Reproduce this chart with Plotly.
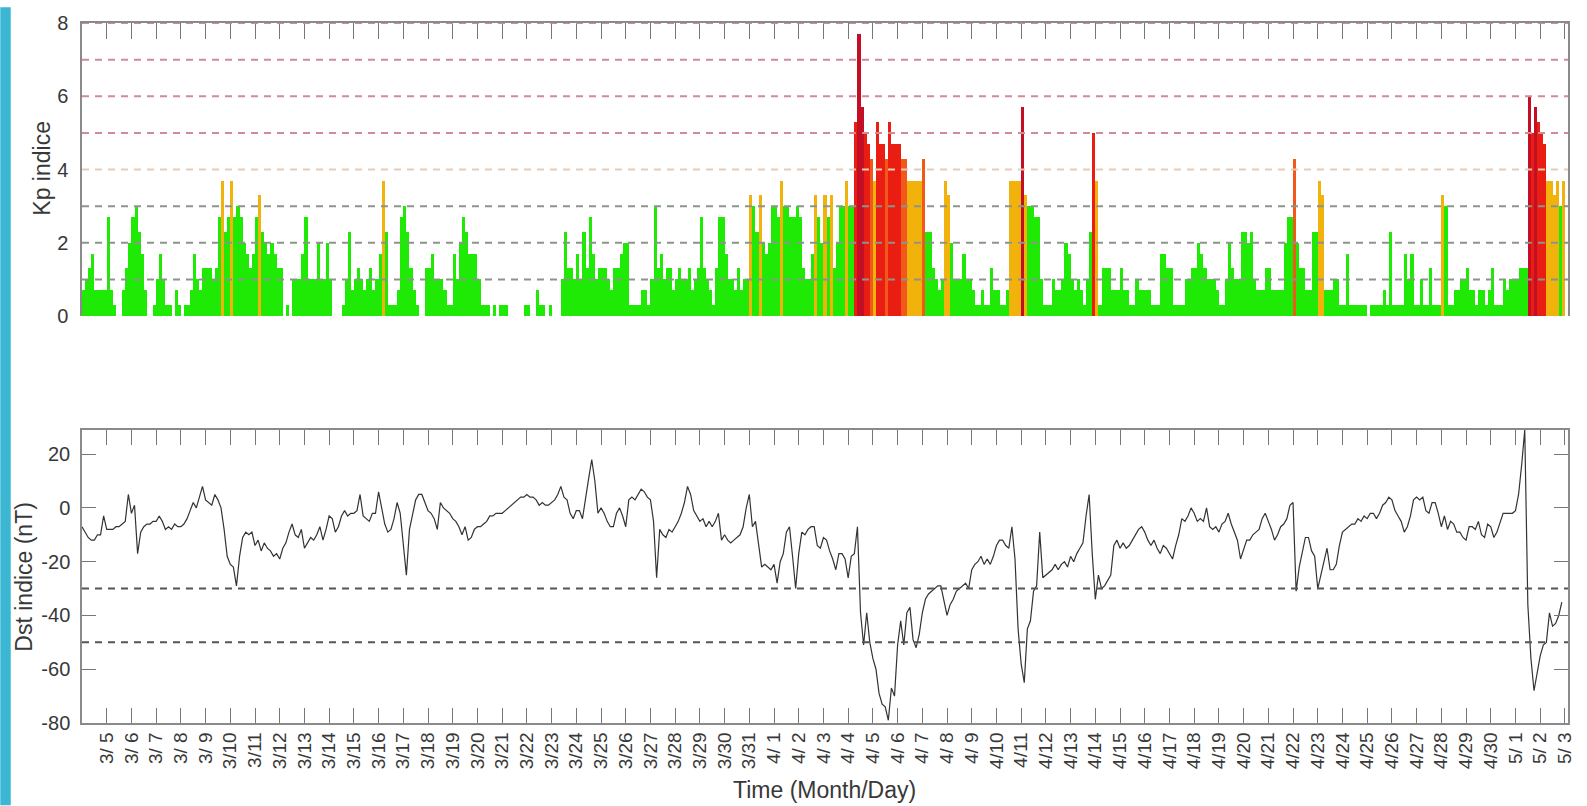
import plotly.graph_objects as go
import pandas as pd

# ---------------- data ----------------
# Kp index, 3-hourly (8 values per day), 2010-03-04 .. 2010-05-02
kp_mar = [
    0.7, 1.0, 1.3, 1.7, 0.7, 0.7, 0.7, 0.7,   # 3/4
    2.7, 0.7, 0.3, 0.0, 0.0, 0.7, 1.3, 2.0,   # 3/5
    2.7, 3.0, 2.3, 1.7, 0.7, 0.0, 0.0, 0.3,   # 3/6
    1.0, 1.7, 1.0, 0.3, 0.3, 0.0, 0.7, 0.3,   # 3/7
    0.0, 0.3, 0.3, 0.7, 1.7, 1.0, 0.7, 1.3,   # 3/8
    1.3, 1.3, 1.0, 1.3, 2.7, 3.7, 2.3, 2.7,   # 3/9
    3.7, 2.7, 3.0, 2.7, 2.0, 1.7, 1.3, 1.7,   # 3/10
    2.7, 3.3, 2.3, 2.0, 1.7, 2.0, 1.7, 1.3,   # 3/11
    1.3, 0.0, 0.3, 0.0, 1.0, 1.0, 1.0, 1.7,   # 3/12
    2.7, 1.0, 1.0, 1.0, 2.0, 1.0, 1.0, 2.0,   # 3/13
    1.0, 0.0, 0.0, 0.0, 0.3, 1.0, 2.3, 0.7,   # 3/14
    1.0, 1.3, 1.0, 0.7, 1.0, 1.3, 0.7, 1.0,   # 3/15
    1.7, 3.7, 2.3, 0.3, 0.3, 0.3, 0.7, 2.7,   # 3/16
    3.0, 2.3, 1.3, 0.7, 0.3, 0.0, 0.0, 1.3,   # 3/17
    1.3, 1.7, 1.0, 1.0, 1.0, 0.7, 0.3, 0.3,   # 3/18
    1.7, 1.0, 2.0, 2.7, 2.3, 1.7, 1.7, 1.7,   # 3/19
    1.0, 0.3, 0.3, 0.3, 0.0, 0.3, 0.0, 0.3,   # 3/20
    0.3, 0.3, 0.0, 0.0, 0.0, 0.0, 0.0, 0.3,   # 3/21
    0.3, 0.0, 0.0, 0.7, 0.3, 0.3, 0.0, 0.3,   # 3/22
    0.0, 0.0, 0.0, 1.0, 2.3, 1.3, 1.3, 1.0,   # 3/23
    1.7, 1.0, 2.3, 1.3, 2.7, 1.7, 1.0, 1.3,   # 3/24
    1.3, 1.3, 1.0, 0.7, 1.3, 1.3, 1.7, 2.0,   # 3/25
    2.0, 0.3, 0.3, 0.3, 0.3, 0.7, 0.7, 0.3,   # 3/26
    1.0, 3.0, 1.3, 1.7, 1.0, 1.3, 1.3, 0.7,   # 3/27
    1.0, 1.3, 1.0, 1.0, 1.3, 0.7, 1.0, 1.3,   # 3/28
    2.7, 1.3, 1.0, 0.7, 0.3, 1.3, 2.7, 2.7,   # 3/29
    1.7, 1.0, 1.0, 0.7, 1.3, 0.7, 1.0, 1.0,   # 3/30
    3.3, 3.0, 2.3, 3.3, 2.0, 1.7, 2.0, 3.0,   # 3/31
]
kp_apr = [
    3.0, 2.7, 3.7, 3.0, 3.0, 2.7, 2.7, 3.0,   # 4/1
    2.7, 1.3, 1.0, 1.0, 1.7, 3.3, 2.7, 2.0,   # 4/2
    3.3, 2.7, 3.3, 1.3, 2.0, 3.0, 3.0, 3.7,   # 4/3
    3.0, 3.0, 5.3, 7.7, 5.7, 5.0, 4.7, 4.3,   # 4/4
    3.7, 5.3, 4.7, 4.7, 4.3, 5.3, 4.7, 4.7,   # 4/5
    4.7, 4.3, 4.3, 3.7, 3.7, 3.7, 3.7, 3.7,   # 4/6
    4.3, 2.3, 2.3, 1.3, 1.0, 0.7, 1.0, 3.7,   # 4/7
    3.3, 2.0, 1.0, 1.0, 1.0, 1.7, 1.0, 1.0,   # 4/8
    0.7, 0.3, 0.3, 0.7, 0.3, 0.3, 1.3, 0.7,   # 4/9
    0.7, 0.3, 0.3, 0.7, 3.7, 3.7, 3.7, 3.7,   # 4/10
    5.7, 3.3, 3.0, 3.0, 2.7, 2.7, 1.0, 0.3,   # 4/11
    0.3, 0.3, 1.0, 0.7, 0.7, 1.0, 2.0, 1.7,   # 4/12
    1.0, 0.7, 1.0, 0.7, 0.3, 1.0, 2.3, 5.0,   # 4/13
    3.7, 0.3, 1.3, 1.3, 1.3, 0.7, 0.7, 0.7,   # 4/14
    1.3, 0.7, 0.7, 0.3, 0.3, 1.0, 0.7, 0.7,   # 4/15
    0.7, 0.7, 0.3, 0.3, 0.3, 1.7, 1.7, 1.3,   # 4/16
    1.3, 0.3, 0.3, 0.3, 0.3, 1.0, 1.0, 1.3,   # 4/17
    1.3, 2.0, 1.7, 1.3, 1.0, 1.0, 1.0, 0.7,   # 4/18
    0.3, 0.3, 1.0, 2.0, 1.3, 1.0, 1.0, 2.3,   # 4/19
    2.3, 2.0, 2.3, 1.0, 0.7, 0.7, 0.7, 1.3,   # 4/20
    1.3, 0.7, 0.7, 0.7, 0.7, 2.0, 2.7, 2.7,   # 4/21
    4.3, 2.0, 1.3, 1.3, 0.7, 0.7, 2.3, 2.3,   # 4/22
    3.7, 3.3, 0.7, 0.7, 0.7, 1.0, 1.0, 0.3,   # 4/23
    0.3, 1.7, 0.3, 0.3, 0.3, 0.3, 0.3, 0.3,   # 4/24
    0.0, 0.3, 0.3, 0.3, 0.3, 0.7, 0.3, 2.3,   # 4/25
    0.3, 0.3, 0.3, 0.3, 1.7, 1.0, 1.7, 0.3,   # 4/26
    0.3, 1.0, 0.3, 0.3, 1.3, 0.3, 0.3, 0.3,   # 4/27
    3.3, 3.0, 0.3, 0.3, 0.7, 0.7, 1.0, 1.0,   # 4/28
    1.3, 0.7, 0.7, 0.3, 0.7, 0.7, 0.3, 0.7,   # 4/29
    1.3, 0.3, 0.3, 0.3, 1.0, 0.7, 1.0, 1.0,   # 4/30
]
kp_may = [
    1.0, 1.3, 1.3, 1.3, 6.0, 5.0, 5.7, 5.3,   # 5/1
    5.0, 4.7, 3.7, 3.7, 3.3, 3.7, 3.0, 3.7,   # 5/2
]

# Dst index (nT), sampled every 3 hours on the same time grid
dst_mar = [
    -7, -9, -11, -12, -12, -10, -10, -3,
    -8, -8, -8, -7, -7, -6, -5, 5,
    -2, 1, -17, -9, -7, -6, -6, -5,
    -5, -3, -5, -8, -7, -8, -6, -7,
    -7, -6, -4, -1, 2, 0, 4, 8,
    3, 2, 1, 5, 3, 0, -8, -18,
    -21, -22, -29, -18, -11, -9, -10, -9,
    -14, -12, -16, -13, -15, -16, -18, -17,
    -19, -15, -13, -9, -6, -10, -11, -8,
    -15, -13, -11, -12, -10, -7, -12, -8,
    -3, -4, -9, -7, -3, -1, -3, -2,
    -2, -1, 5, -3, -4, -5, -2, -2,
    6, 0, -6, -9, -8, -4, 2, -2,
    -14, -25, -8, -2, 3, 5, 5, 2,
    -1, -2, -4, -8, 2, 0, -1, -2,
    -4, -5, -7, -10, -7, -12, -11, -8,
    -7, -7, -6, -5, -3, -3, -2, -2,
    -2, -1, 0, 1, 2, 3, 4, 4,
    5, 4, 4, 3, 1, 2, 1, 1,
    2, 3, 5, 8, 4, 3, -2, -4,
    -1, -1, -4, 4, 11, 18, 10, -2,
    0, -2, -5, -7, -7, -2, 0, -3,
    -7, 3, 4, 3, 5, 7, 6, 4,
    3, -5, -26, -8, -10, -11, -8, -9,
    -7, -5, -2, 2, 8, 5, -1, -3,
    -5, -4, -7, -5, -7, -5, -2, -12,
    -10, -12, -13, -12, -11, -10, -7, 0,
    5, -7, -5, -14, -22, -21, -22, -23,
]
dst_apr = [
    -21, -28, -20, -17, -9, -7, -18, -30,
    -17, -9, -10, -8, -7, -7, -14, -15,
    -11, -12, -16, -19, -23, -17, -17, -19,
    -26, -18, -17, -7, -39, -51, -39, -50,
    -56, -60, -69, -73, -74, -79, -67, -70,
    -51, -42, -51, -39, -37, -49, -52, -47,
    -39, -34, -32, -31, -30, -29, -29, -34,
    -40, -36, -34, -31, -30, -29, -28, -30,
    -23, -21, -20, -18, -21, -19, -21, -18,
    -14, -12, -12, -14, -15, -7, -19, -45,
    -58, -65, -45, -42, -31, -29, -9, -26,
    -25, -24, -23, -21, -23, -21, -20, -22,
    -18, -20, -17, -15, -13, -3, 5, -17,
    -34, -25, -30, -29, -27, -25, -14, -12,
    -15, -13, -15, -14, -12, -10, -8, -7,
    -9, -12, -14, -12, -15, -17, -14, -15,
    -17, -19, -14, -10, -4, -5, -3, 0,
    -2, -5, -4, -5, 0, -7, -8, -7,
    -9, -6, -5, -2, -6, -9, -12, -19,
    -15, -12, -12, -10, -9, -8, -4, -2,
    -5, -8, -12, -10, -7, -6, -4, 1,
    2, -31, -22, -17, -11, -11, -16, -18,
    -30, -25, -20, -15, -23, -23, -21, -14,
    -9, -8, -7, -6, -6, -4, -5, -3,
    -4, -2, -2, -4, -2, 1, 2, 4,
    3, -1, -3, -5, -9, -7, -3, 3,
    4, 3, 4, -1, -2, 2, 2, -2,
    -7, -3, -8, -5, -6, -9, -9, -11,
    -12, -7, -7, -8, -5, -10, -11, -6,
    -7, -11, -9, -5, -2, -2, -2, -2,
]
dst_may = [
    -1, 5, 16, 29, -36, -56, -68, -62,
    -55, -51, -50, -39, -44, -43, -40, -35,
]

tick_labels = [
    "3/ 5", "3/ 6", "3/ 7", "3/ 8", "3/ 9", "3/10", "3/11", "3/12", "3/13", "3/14",
    "3/15", "3/16", "3/17", "3/18", "3/19", "3/20", "3/21", "3/22", "3/23", "3/24",
    "3/25", "3/26", "3/27", "3/28", "3/29", "3/30", "3/31",
    "4/ 1", "4/ 2", "4/ 3", "4/ 4", "4/ 5", "4/ 6", "4/ 7", "4/ 8", "4/ 9", "4/10",
    "4/11", "4/12", "4/13", "4/14", "4/15", "4/16", "4/17", "4/18", "4/19", "4/20",
    "4/21", "4/22", "4/23", "4/24", "4/25", "4/26", "4/27", "4/28", "4/29", "4/30",
    "5/ 1", "5/ 2", "5/ 3",
]
kp_ticks = [0, 2, 4, 6, 8]
kp_tick_text = ["0", "2", "4", "6", "8"]
dst_ticks = [-80, -60, -40, -20, 0, 20]
dst_tick_text = ["-80", "-60", "-40", "-20", "0", "20"]
kp_ref_levels = [1, 2, 3, 4, 5, 6, 7, 8]
dst_ref_levels = [-30, -50]

# ---------------- layout geometry ----------------
W, H = 1587, 806
ML, MR, MT, MB = 82, 14, 16, 83
PW = W - ML - MR
PH = H - MT - MB


def px_x(px):
    return (px - ML) / PW


def px_y(py):
    return (H - MB - py) / PH


FONT = "Liberation Sans, Arial, Helvetica, sans-serif"
TXT = "#383838"

kp = kp_mar + kp_apr + kp_may
dst = dst_mar + dst_apr + dst_may

t0 = pd.Timestamp("2010-03-04 00:00")
t_end = pd.Timestamp("2010-05-03 03:00")
step = pd.Timedelta(hours=3)
kp_t = [t0 + step * i + step / 2 for i in range(len(kp))]
dst_t = [t0 + step * i for i in range(len(dst))]
tick_vals = [pd.Timestamp("2010-03-05") + pd.Timedelta(days=i) for i in range(len(tick_labels))]


def kp_color(v):
    if v < 3.2:
        return "#1eea06"
    if v < 4.0:
        return "#f2b20c"
    if v < 4.5:
        return "#f2581a"
    if v < 5.5:
        return "#ea1d12"
    return "#c20f26"


kp_colors = [kp_color(v) for v in kp]

fig = go.Figure()
fig.add_trace(go.Bar(
    x=kp_t, y=kp, width=3 * 3600 * 1000,
    marker=dict(color=kp_colors, line=dict(width=0)),
    xaxis="x", yaxis="y", showlegend=False, hoverinfo="x+y",
))
fig.add_trace(go.Scatter(
    x=dst_t, y=dst, mode="lines",
    line=dict(color="#333333", width=1.2),
    xaxis="x2", yaxis="y2", showlegend=False,
))

frame = "#8a8a8a"
shapes = []
kp_line_colors = {1: "#8c948c", 2: "#8c948c", 3: "#8c948c", 4: "#e8cbb6",
                  5: "#cf8c96", 6: "#cf8c96", 7: "#cf8c96", 8: "#cf8c96"}
for lv in kp_ref_levels:
    shapes.append(dict(type="line", xref="x domain", yref="y", x0=0, x1=1, y0=lv, y1=lv,
                       line=dict(color=kp_line_colors[lv], width=2, dash="7px,6px"), layer="above"))
for lv in dst_ref_levels:
    shapes.append(dict(type="line", xref="x2 domain", yref="y2", x0=0, x1=1, y0=lv, y1=lv,
                       line=dict(color="#555555", width=2, dash="7px,6px"), layer="above"))
# cyan band at the left edge of the picture
shapes.append(dict(type="rect", xref="paper", yref="paper",
                   x0=px_x(0), x1=px_x(10.5), y0=px_y(H), y1=px_y(0),
                   line=dict(width=0), fillcolor="#3bb7d3", layer="above"))

annotations = [
    dict(text="Kp indice", xref="paper", yref="paper", x=px_x(41), y=px_y(163),
         textangle=-90, showarrow=False, font=dict(family=FONT, size=23, color=TXT),
         xanchor="center", yanchor="middle"),
    dict(text="Dst indice (nT)", xref="paper", yref="paper", x=px_x(24), y=px_y(575),
         textangle=-90, showarrow=False, font=dict(family=FONT, size=23, color=TXT),
         xanchor="center", yanchor="middle"),
    dict(text="Time (Month/Day)", xref="paper", yref="paper", x=px_x(827), y=px_y(791),
         showarrow=False, font=dict(family=FONT, size=23, color=TXT),
         xanchor="center", yanchor="middle"),
]

fig.update_layout(
    width=W, height=H,
    margin=dict(l=ML, r=MR, t=MT, b=MB, pad=0),
    paper_bgcolor="white", plot_bgcolor="white",
    bargap=0,
    font=dict(family=FONT, size=19, color=TXT),
    shapes=shapes, annotations=annotations,
    xaxis=dict(domain=[0, 1], anchor="y", side="top", range=[t0, t_end],
               tickmode="array", tickvals=tick_vals, ticks="inside", ticklen=16,
               tickcolor="#777777", tickwidth=1, showticklabels=False,
               showline=True, linecolor=frame, linewidth=1.5, showgrid=False, zeroline=False),
    yaxis=dict(domain=[px_y(312), 1], anchor="x", range=[0, 8],
               tickmode="array", tickvals=kp_ticks, ticktext=kp_tick_text,
               ticks="", ticklabelstandoff=8,
               tickfont=dict(size=20, color=TXT),
               showline=True, mirror=True, linecolor=frame, linewidth=1.5,
               showgrid=False, zeroline=False),
    xaxis2=dict(domain=[0, 1], anchor="y2", range=[t0, t_end],
                tickmode="array", tickvals=tick_vals, ticktext=tick_labels,
                ticks="inside", ticklen=15, tickcolor="#777777", tickwidth=1,
                tickangle=-90, tickfont=dict(size=19, color=TXT),
                showline=True, mirror="ticks", linecolor=frame, linewidth=1.5,
                showgrid=False, zeroline=False),
    yaxis2=dict(domain=[0, px_y(427)], anchor="x2", range=[-80, 29],
                tickmode="array", tickvals=dst_ticks, ticktext=dst_tick_text,
                ticks="inside", ticklen=14,
                tickcolor="#777777", tickwidth=1, ticklabelstandoff=6,
                tickfont=dict(size=20, color=TXT),
                showline=True, mirror="ticks", linecolor=frame, linewidth=1.5,
                showgrid=False, zeroline=False),
)

fig.write_html("out.html")
